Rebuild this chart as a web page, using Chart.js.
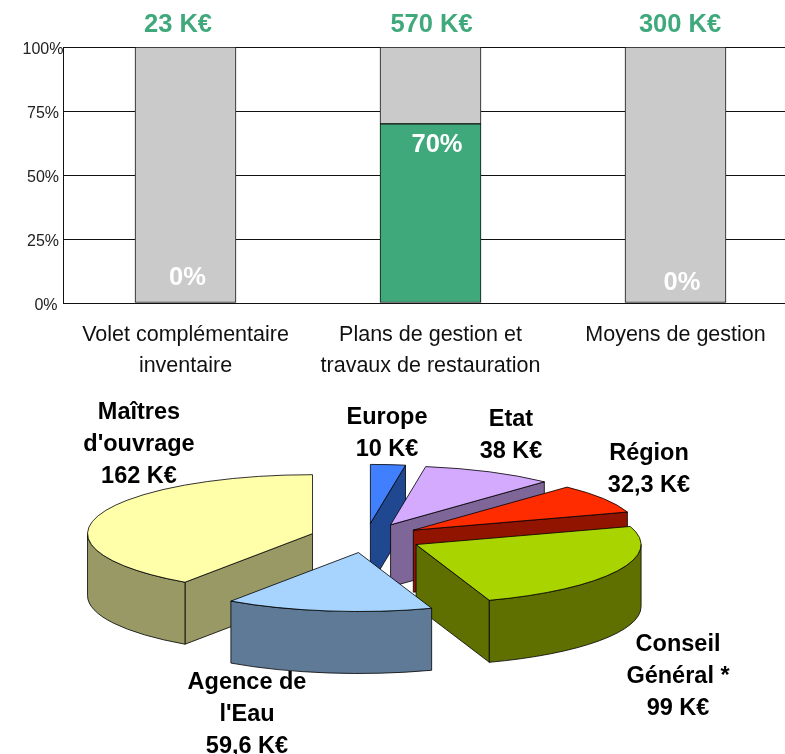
<!DOCTYPE html>
<html>
<head>
<meta charset="utf-8">
<script src="https://cdn.jsdelivr.net/npm/chart.js@4"></script>
<style>
  html, body { margin: 0; padding: 0; background: #fff; overflow: hidden; width: 785px; height: 754px; }
  #barBox { position: absolute; left: 0; top: 0; width: 798px; height: 385px; }
  #pieBox { position: absolute; left: 0; top: 0; width: 785px; height: 754px; }
</style>
</head>
<body>
<div id="pieBox"><canvas id="pieChart"></canvas></div>
<div id="barBox"><canvas id="barChart"></canvas></div>
<script>
// top chart
const categories = [
  ['Volet complémentaire', 'inventaire'],
  ['Plans de gestion et', 'travaux de restauration'],
  ['Moyens de gestion']
];
const budgets = ['23 K€', '570 K€', '300 K€'];
const donePct = [0, 70, 0];
const restPct = [100, 30, 100];
const yTicks = [0, 25, 50, 75, 100];

// bottom chart
const funders = ['Europe', 'Etat', 'Région', 'Conseil Général *', "Agence de l'Eau", "Maîtres d'ouvrage"];
const amounts = [10, 38, 32.3, 99, 59.6, 162];
const topColors = ['#4080ff', '#d4aaff', '#ff2c00', '#aad400', '#a6d4ff', '#ffffaa'];
const wallColors = ['#204890', '#7f6699', '#901400', '#5f7000', '#5f7a96', '#999966'];
const funderLabels = [
  ['Europe', '10 K€'],
  ['Etat', '38 K€'],
  ['Région', '32,3 K€'],
  ['Conseil', 'Général *', '99 K€'],
  ['Agence de', "l'Eau", '59,6 K€'],
  ['Maîtres', "d'ouvrage", '162 K€']
];

const FONT = '"Liberation Sans", Arial, sans-serif';
const GREEN = '#3fa97c';

// label placement, px
const budgetX = [178, 431.5, 680];
const donePctPos = [[187.5, 278], [437, 145], [682, 283]];
const yTickX = [46, 43, 43, 43, 43];
const funderPos = [[387, 418], [511, 420], [649, 454], [678, 645], [247, 683], [139, 413]];

const barLabels = {
  id: 'barLabels',
  afterDraw(chart) {
    const ctx = chart.ctx;
    ctx.save();
    ctx.textAlign = 'center';
    ctx.textBaseline = 'middle';
    ctx.font = 'bold 25.5px ' + FONT;
    ctx.fillStyle = GREEN;
    budgets.forEach((t, i) => ctx.fillText(t, budgetX[i], 25));
    ctx.fillStyle = '#fff';
    donePct.forEach((v, i) => ctx.fillText(v + '%', donePctPos[i][0], donePctPos[i][1]));
    // y labels sit a bit under their grid line in the original
    ctx.font = '16px ' + FONT;
    ctx.fillStyle = '#222';
    yTicks.forEach((v, i) => ctx.fillText(v + '%', yTickX[i], chart.scales.y.getPixelForValue(v) + 3));
    ctx.restore();
  }
};

new Chart(document.getElementById('barChart'), {
  type: 'bar',
  data: {
    labels: categories,
    datasets: [
      { data: donePct, backgroundColor: GREEN, borderColor: '#111', borderWidth: 1, borderSkipped: false, barThickness: 101 },
      { data: restPct, backgroundColor: '#cacaca', borderColor: '#111', borderWidth: 1, borderSkipped: false, barThickness: 101 }
    ]
  },
  options: {
    responsive: true,
    maintainAspectRatio: false,
    animation: false,
    layout: { padding: { top: 47, left: 0, right: 0, bottom: 0 } },
    plugins: { legend: { display: false }, tooltip: { enabled: false } },
    scales: {
      x: {
        stacked: true,
        afterFit: (scale) => { scale.height = 82; },
        grid: { display: false },
        border: { color: '#111' },
        ticks: {
          color: '#111',
          padding: 8,
          maxRotation: 0,
          font: { family: FONT, size: 21.5, lineHeight: 1.46 }
        }
      },
      y: {
        stacked: true,
        min: 0,
        max: 100,
        afterFit: (scale) => { scale.width = 63; },
        grid: { color: '#111', lineWidth: 1, drawTicks: false },
        border: { color: '#111' },
        ticks: { stepSize: 25, display: false }
      }
    }
  },
  plugins: [barLabels]
});

// squashed, exploded pie: the arcs come from the library, walls follow their angles
const PIE_X = 366, PIE_Y = 538, SQUASH = 0.262, EXPLODE = 56, DEPTH = 62;

function drawSlice(ctx, arc, i) {
  const s = arc.startAngle, e = arc.endAngle, r = arc.outerRadius;
  const mid = (s + e) / 2;
  const cx = PIE_X + Math.cos(mid) * EXPLODE;
  const cy = PIE_Y + Math.sin(mid) * EXPLODE * SQUASH;
  const px = (a) => cx + Math.cos(a) * r;
  const py = (a) => cy + Math.sin(a) * r * SQUASH;

  ctx.fillStyle = wallColors[i];
  ctx.strokeStyle = 'rgba(0,0,0,0.8)';
  ctx.lineWidth = 1;

  const face = (a) => {
    ctx.beginPath();
    ctx.moveTo(cx, cy);
    ctx.lineTo(px(a), py(a));
    ctx.lineTo(px(a), py(a) + DEPTH);
    ctx.lineTo(cx, cy + DEPTH);
    ctx.closePath();
    ctx.fill();
    ctx.stroke();
  };
  if (Math.cos(s) < 0) face(s);
  if (Math.cos(e) > 0) face(e);

  const a0 = Math.max(s, 0), a1 = Math.min(e, Math.PI);
  if (a1 > a0) {
    ctx.beginPath();
    ctx.ellipse(cx, cy, r, r * SQUASH, 0, a0, a1);
    ctx.ellipse(cx, cy + DEPTH, r, r * SQUASH, 0, a1, a0, true);
    ctx.closePath();
    ctx.fill();
    ctx.stroke();
  }

  ctx.save();
  ctx.translate(cx, cy);
  ctx.scale(1, SQUASH);
  ctx.translate(-arc.x, -arc.y);
  arc.draw(ctx);
  ctx.restore();

  ctx.beginPath();
  ctx.moveTo(cx, cy);
  ctx.ellipse(cx, cy, r, r * SQUASH, 0, s, e);
  ctx.closePath();
  ctx.stroke();
}

const slices3d = {
  id: 'slices3d',
  beforeDatasetsDraw(chart) {
    const ctx = chart.ctx;
    const arcs = chart.getDatasetMeta(0).data;
    const order = arcs.map((arc, i) => {
      const mid = (arc.startAngle + arc.endAngle) / 2;
      return { arc, i, y: Math.sin(mid) };
    }).sort((a, b) => a.y - b.y);
    order.forEach(({ arc, i }) => drawSlice(ctx, arc, i));
    return false;
  },
  afterDraw(chart) {
    const ctx = chart.ctx;
    ctx.save();
    ctx.textAlign = 'center';
    ctx.textBaseline = 'middle';
    ctx.font = 'bold 23.5px ' + FONT;
    ctx.fillStyle = '#000';
    funderLabels.forEach((lines, i) => {
      lines.forEach((t, j) => ctx.fillText(t, funderPos[i][0], funderPos[i][1] + j * 32));
    });
    ctx.restore();
  }
};

new Chart(document.getElementById('pieChart'), {
  type: 'pie',
  data: {
    labels: funders,
    datasets: [{ data: amounts, backgroundColor: topColors, borderWidth: 0 }]
  },
  options: {
    responsive: true,
    maintainAspectRatio: false,
    animation: false,
    radius: 225,
    plugins: { legend: { display: false }, tooltip: { enabled: false } }
  },
  plugins: [slices3d]
});
</script>
</body>
</html>
